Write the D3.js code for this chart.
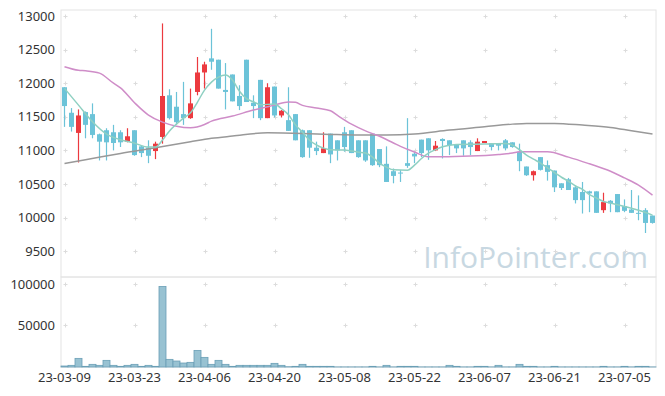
<!DOCTYPE html>
<html>
<head>
<meta charset="utf-8">
<script src="https://cdn.jsdelivr.net/npm/d3@7"></script>
<style>
  html, body { margin: 0; padding: 0; background: #fff; }
  svg { display: block; font-family: "Noto Sans", "DejaVu Sans", sans-serif; }
</style>
</head>
<body>
<svg id="chart" width="665" height="396"></svg>
<script>
const dates = [
  '23-03-09','23-03-10','23-03-13','23-03-14','23-03-15','23-03-16','23-03-17','23-03-20','23-03-21','23-03-22',
  '23-03-23','23-03-24','23-03-27','23-03-28','23-03-29','23-03-30','23-03-31','23-04-03','23-04-04','23-04-05',
  '23-04-06','23-04-07','23-04-10','23-04-11','23-04-12','23-04-13','23-04-14','23-04-17','23-04-18','23-04-19',
  '23-04-20','23-04-21','23-04-24','23-04-25','23-04-26','23-04-27','23-04-28','23-05-02','23-05-03','23-05-04',
  '23-05-08','23-05-09','23-05-10','23-05-11','23-05-12','23-05-15','23-05-16','23-05-17','23-05-18','23-05-19',
  '23-05-22','23-05-23','23-05-24','23-05-25','23-05-26','23-05-30','23-05-31','23-06-01','23-06-02','23-06-05',
  '23-06-07','23-06-08','23-06-09','23-06-12','23-06-13','23-06-14','23-06-15','23-06-16','23-06-19','23-06-20',
  '23-06-21','23-06-22','23-06-23','23-06-26','23-06-27','23-06-28','23-06-29','23-06-30','23-07-03','23-07-04',
  '23-07-05','23-07-06','23-07-07','23-07-10','23-07-11'
];

const open = [
  11940,11560,11260,11570,11540,11240,11300,11270,11270,11130,
  11300,11060,11040,10990,11200,11820,11650,11540,11480,11870,
  12160,12370,12350,11900,12130,11810,12350,11710,12050,11480,
  11950,11520,11450,11540,11300,11300,11040,10960,11250,11150,
  11270,11300,11150,11150,11250,11020,10800,10690,10670,10810,
  10950,11160,11180,11000,11170,11150,11090,11150,11120,10990,
  11110,11110,11100,11150,11120,10980,10760,10630,10900,10780,
  10700,10510,10570,10450,10380,10390,10390,10110,10250,10350,
  10170,10120,10070,10110,10030
];
const high = [
  11940,11630,11610,11580,11700,11250,11330,11380,11300,11330,
  11300,11080,11150,11130,12890,11910,11870,12020,11920,12390,
  12320,12810,12350,12300,12130,11970,12350,11820,12050,12000,
  11950,11600,11940,11540,11310,11300,11130,11270,11250,11150,
  11350,11300,11150,11150,11250,11020,11060,10730,10710,11480,
  10980,11160,11180,11140,11180,11150,11090,11150,11150,11180,
  11140,11110,11100,11170,11120,11100,10760,10700,10900,10850,
  10700,10510,10590,10480,10530,10400,10390,10370,10260,10350,
  10270,10410,10330,10140,10030
];
const low = [
  11350,11280,10820,11180,11180,10850,10850,11000,11050,11120,
  10920,10900,10810,10870,11100,11460,11380,11380,11470,11820,
  11920,12200,11920,11610,11730,11600,11720,11480,11450,11480,
  11490,11490,11290,11150,10890,10890,10930,10960,10810,10850,
  10980,10960,10890,10830,10770,10750,10530,10510,10530,10740,
  10810,10900,10860,10990,10880,10930,10960,10920,10930,10990,
  11110,11000,11000,11000,11040,10690,10620,10550,10700,10550,
  10380,10410,10410,10210,10060,10080,10070,10070,10080,10080,
  10080,10070,9960,9770,9910
];
const close = [
  11660,11350,11520,11380,11230,11130,11120,11110,11120,11210,
  10930,10960,10920,11100,11810,11480,11420,11480,11700,12160,
  12280,12320,11920,11870,11730,11660,11720,11660,11480,11940,
  11520,11590,11290,11150,10900,11040,10990,11030,10940,11000,
  11050,10960,10900,10850,10780,10780,10530,10620,10660,10770,
  10910,10960,11000,11070,11140,11080,11030,11030,11050,11130,
  11140,11050,11070,11030,11050,10840,10630,10690,10710,10680,
  10450,10440,10410,10260,10260,10360,10070,10230,10210,10080,
  10100,10070,10060,9920,9920
];
const volume = [
  1200,2000,10400,800,3200,2000,8000,2000,800,2000,
  3200,800,2000,800,97000,9200,7200,4800,5600,20000,
  11600,3200,8000,3200,800,2000,2000,2000,2000,2000,
  4400,2000,300,800,3200,800,800,800,800,100,
  100,100,100,100,800,100,2000,100,800,800,
  800,100,100,100,100,2000,800,100,100,800,
  800,100,2000,100,100,3200,800,800,100,100,
  800,100,100,100,100,100,100,800,100,100,
  800,100,800,800,100
];

// moving averages: [bar index, value]
const ma5 = [
  [0,11923],[2,11674],[4,11426],[6,11243],[8,11158],[10,11108],[12,11049],[13,11049],[14,11153],[15,11290],
  [17,11480],[18,11560],[19,11720],[20,11898],[21,12017],[22,12090],[23,12121],[24,12047],[25,11880],[26,11770],
  [27,11724],[28,11680],[30,11690],[31,11620],[32,11530],[33,11380],[34,11270],[35,11150],[36,11080],[37,11034],
  [38,11010],[40,11004],[42,10974],[43,10960],[44,10900],[45,10810],[46,10750],[47,10710],[49,10706],[50,10780],
  [51,10880],[52,10960],[53,11010],[54,11053],[56,11089],[60,11094],[63,11104],[64,11079],[65,11010],[66,10930],
  [67,10870],[68,10811],[69,10740],[70,10670],[71,10600],[72,10540],[73,10470],[74,10420],[75,10340],[76,10290],
  [77,10240],[78,10215],[79,10190],[80,10165],[81,10140],[82,10110],[83,10075],[84,10036]
];
const ma20 = [
  [0,12245],[2,12192],[3,12185],[5,12150],[7,12000],[8,11930],[10,11710],[12,11526],[14,11420],[16,11360],
  [18,11337],[20,11385],[21,11435],[24,11511],[27,11600],[30,11674],[32,11722],[33,11715],[34,11670],[36,11630],
  [38,11590],[39,11520],[41,11390],[43,11290],[45,11210],[47,11110],[48,11060],[50,10975],[52,10904],[54,10904],
  [58,10915],[62,10940],[64,10960],[65,10979],[69,10979],[72,10900],[75,10800],[78,10690],[80,10590],[82,10483],
  [84,10334]
];
const ma60 = [
  [0,10806],[3,10860],[8,10955],[13,11040],[18,11130],[21,11180],[24,11213],[29,11262],[34,11253],[38,11238],
  [42,11228],[46,11228],[50,11243],[55,11302],[60,11351],[64,11391],[66,11402],[70,11402],[74,11377],[78,11342],
  [81,11292],[84,11243]
];

const priceTicks = [9500, 10000, 10500, 11000, 11500, 12000, 12500, 13000];
const volTicks = [50000, 100000];
const labelDates = dates.filter((d, i) => i % 10 === 0);

(function () {
  const svg = d3.select('#chart');
  const plotLeft = 61;
  const plotRight = 656;
  const plotTop = 10;
  const plotMid = 277;
  const plotBottom = 367;

  const x = d3.scaleBand().domain(dates).range([plotLeft, plotRight]).paddingInner(0);
  const y = d3.scaleLinear().domain([9130, 13090]).range([276, plotTop]);
  const yv = d3.scaleLinear().domain([0, 108400]).range([plotBottom, plotMid]);
  const cx = (d) => x(d) + x.bandwidth() / 2;

  // panel frames
  svg.append('rect').attr('x', plotLeft).attr('y', plotTop)
    .attr('width', plotRight - plotLeft).attr('height', plotMid - plotTop)
    .attr('fill', 'none').attr('stroke', '#e4e4e4');
  svg.append('rect').attr('x', plotLeft).attr('y', plotMid)
    .attr('width', plotRight - plotLeft).attr('height', plotBottom - plotMid)
    .attr('fill', 'none').attr('stroke', '#e4e4e4');

  // grid crosses
  const crossRows = priceTicks.map((v) => y(v)).concat(volTicks.map((v) => yv(v)));
  const grid = svg.append('g').attr('stroke', '#dcdcdc').attr('stroke-width', 1);
  labelDates.forEach((d) => {
    crossRows.forEach((ry) => {
      const px = Math.round(cx(d)) + 0.5;
      const py = Math.round(ry) + 0.5;
      grid.append('line').attr('x1', px - 2).attr('x2', px + 2).attr('y1', py).attr('y2', py);
      grid.append('line').attr('x1', px).attr('x2', px).attr('y1', py - 2).attr('y2', py + 2);
    });
  });

  // watermark
  svg.append('text').attr('x', 648).attr('y', 268).attr('text-anchor', 'end')
    .attr('font-size', 30).attr('fill', '#c8d8e2').attr('font-family', '"Open Sans", sans-serif')
    .text('InfoPointer.com');

  // volume bars
  svg.append('g').selectAll('rect').data(volume).join('rect')
    .attr('x', (d, i) => x(dates[i]))
    .attr('y', (d) => yv(d))
    .attr('width', x.bandwidth())
    .attr('height', (d) => plotBottom - yv(d))
    .attr('fill', '#98c2d2')
    .attr('stroke', '#6a9fb6')
    .attr('stroke-width', 0.8);

  // candles
  const up = '#ec3a3f';
  const down = '#6cc3d8';
  const candles = svg.append('g').selectAll('g').data(dates).join('g');
  candles.append('line')
    .attr('x1', (d) => cx(d)).attr('x2', (d) => cx(d))
    .attr('y1', (d, i) => y(high[i])).attr('y2', (d, i) => y(low[i]))
    .attr('stroke', (d, i) => (close[i] > open[i] ? up : down))
    .attr('stroke-width', 1.2);
  candles.append('rect')
    .attr('x', (d) => cx(d) - 2.5)
    .attr('width', 5)
    .attr('y', (d, i) => y(Math.max(open[i], close[i])))
    .attr('height', (d, i) => Math.max(1, Math.abs(y(open[i]) - y(close[i]))))
    .attr('fill', (d, i) => (close[i] > open[i] ? up : down));

  // moving averages
  const line = d3.line()
    .x((d) => cx(dates[d[0]]))
    .y((d) => y(d[1]))
    .curve(d3.curveMonotoneX);
  svg.append('path').datum(ma60).attr('d', line).attr('fill', 'none').attr('stroke', '#999').attr('stroke-width', 1.5);
  svg.append('path').datum(ma20).attr('d', line).attr('fill', 'none').attr('stroke', '#cf8dc8').attr('stroke-width', 1.5);
  svg.append('path').datum(ma5).attr('d', line).attr('fill', 'none').attr('stroke', '#8fd0c2').attr('stroke-width', 1.5);

  // axis labels
  const labels = svg.append('g').attr('font-size', 13).attr('fill', '#333');
  priceTicks.forEach((v) => {
    labels.append('text').attr('x', 55).attr('y', y(v)).attr('dy', '0.35em').attr('text-anchor', 'end').text(v);
  });
  volTicks.forEach((v) => {
    labels.append('text').attr('x', 55).attr('y', yv(v)).attr('dy', '0.35em').attr('text-anchor', 'end').text(v);
  });
  labelDates.forEach((d) => {
    labels.append('text').attr('x', cx(d)).attr('y', 382).attr('text-anchor', 'middle').text(d);
  });
})();
</script>
</body>
</html>
